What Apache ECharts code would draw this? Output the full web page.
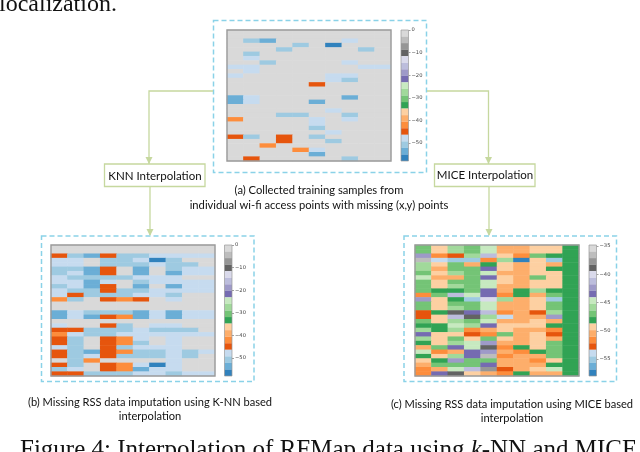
<!DOCTYPE html>
<html><head><meta charset="utf-8">
<style>html,body{margin:0;padding:0;background:#fff}#c{width:640px;height:452px;filter:blur(0.55px)}</style>
<script src="https://cdn.jsdelivr.net/npm/echarts@6/dist/echarts.min.js"></script>
</head><body><div id="c"></div>
<script>
const palette=['#d9d9d9','#bdbdbd','#969696','#636363','#dadaeb','#bcbddc','#9e9ac8','#756bb1','#c7e9c0','#a1d99b','#74c476','#31a354','#fdd0a2','#fdae6b','#fd8d3c','#e6550d','#c6dbef','#9ecae1','#6baed6','#3182bd'];
const columns=[0,1,2,3,4,5,6,7,8,9];
const rows=[...Array(30).keys()];
const collected=[
[0,0,0,0,0,0,0,0,0,0],
[0,0,0,0,0,0,0,0,0,0],
[0,-51,-54,0,0,0,0,-48,0,0],
[0,0,0,0,-51,0,-57,0,0,0],
[0,0,0,-51,0,0,0,0,-51,0],
[0,-51,0,0,0,0,0,0,0,0],
[0,-48,0,0,0,0,0,0,0,0],
[0,0,-51,0,0,0,0,-48,0,0],
[-48,-48,0,0,0,0,0,0,-48,-48],
[0,-48,0,0,0,0,0,0,0,0],
[-48,0,0,0,0,0,-48,-48,0,0],
[0,0,0,0,0,0,-48,-51,0,0],
[0,0,0,0,0,-45,0,0,0,0],
[0,0,0,0,0,0,0,0,0,0],
[0,0,0,0,0,0,0,0,0,0],
[-54,-48,0,0,0,0,0,-54,0,0],
[-54,-48,0,0,0,-54,0,0,0,0],
[0,0,0,0,0,0,0,0,0,0],
[0,0,0,0,0,0,-48,0,0,0],
[0,0,0,-51,-51,0,0,-51,0,0],
[-42,0,0,0,0,-48,0,-48,0,0],
[0,0,0,0,0,-48,0,0,0,0],
[0,0,0,0,0,-51,0,0,0,0],
[0,0,0,0,0,0,-48,0,0,0],
[-45,-51,0,-45,0,-51,0,0,0,0],
[0,0,0,-45,0,0,-51,0,0,0],
[0,0,-42,0,0,0,0,0,0,0],
[0,0,0,0,-42,-48,0,0,0,0],
[0,0,0,0,0,-54,0,0,0,0],
[0,-45,0,0,0,0,0,-51,0,0]];
const knn=[
[0,0,0,0,0,0,0,0,0,0],
[0,0,0,0,0,0,0,0,0,0],
[-45,-51,-54,-45,-51,-51,-48,-48,-48,-48],
[-48,-48,0,-51,-51,-48,-57,-51,0,0],
[-48,-48,0,-51,-51,-51,-48,-51,-51,0],
[-51,-51,-54,-45,0,-54,0,-51,-48,-48],
[-51,-48,-54,-45,0,-54,0,-54,-48,-48],
[-48,-51,-51,-51,-51,-48,-48,-48,0,0],
[-48,-48,-54,-48,0,-51,-48,-48,-48,-48],
[-51,-48,-54,-45,0,-54,0,-54,-48,-48],
[-48,-51,-51,-45,-51,-51,-48,-48,-48,-48],
[-48,-45,-51,-51,-51,-48,-48,-51,0,0],
[-42,-51,0,-45,-42,-45,0,-48,0,0],
[0,0,0,0,0,0,0,0,0,0],
[0,0,0,0,0,0,0,0,0,0],
[-54,-48,-51,-51,-51,-54,-48,-54,-48,-48],
[-54,-48,-54,-45,-42,-54,-48,-54,-48,-48],
[0,0,0,0,0,0,0,0,0,0],
[-48,0,0,-45,-51,0,-48,-48,0,0],
[-45,-45,-51,-51,-51,-48,-51,-51,-51,0],
[-42,-48,-51,-51,-48,-48,-48,-48,-48,-48],
[-45,-51,0,-45,-42,-48,0,-48,0,0],
[-45,-51,0,-45,-42,-51,0,-48,0,0],
[-48,-51,0,-45,-51,-48,-48,-48,0,0],
[-45,-51,-54,-45,-42,-51,-51,-48,-51,-48],
[-45,-51,-48,-45,-51,-51,-51,-48,-51,0],
[0,-51,-42,0,0,0,0,-48,0,0],
[-45,-51,0,-45,-42,-48,-57,-48,0,0],
[-51,-48,0,-45,-42,-54,-48,-48,0,0],
[-45,-45,-51,-51,-51,-48,-48,-51,-48,-48]];
const mice=[
[-47,-49.2,-45.7,-47,-44.6,-50.4,-50.4,-49.2,-49.2,-48],
[-47,-49.2,-45.7,-47,-44.6,-50.4,-50.4,-49.2,-49.2,-48],
[-42.2,-51.6,-52.7,-45.7,-41.1,-49.2,-51.6,-47,-48,-48],
[-36.4,-53.9,-55,-55,-51.6,-45.7,-57.4,-49.2,-55,-48],
[-45.7,-49.2,-47,-50.4,-48,-49.2,-50.4,-49.2,-50.4,-48],
[-45.7,-50.4,-47,-47,-43.4,-49.2,-50.4,-49.2,-48,-48],
[-47,-49.2,-45.7,-47,-44.6,-50.4,-50.4,-49.2,-49.2,-48],
[-44.6,-50.4,-50.4,-47,-43.4,-49.2,-50.4,-47,-49.2,-48],
[-47,-49.2,-47,-47,-44.6,-49.2,-50.4,-49.2,-49.2,-48],
[-47,-49.2,-45.7,-47,-44.6,-50.4,-50.4,-49.2,-49.2,-48],
[-47,-48,-48,-47,-43.4,-50.4,-48,-45.7,-48,-48],
[-51.6,-47,-41.1,-44.6,-43.4,-51.6,-48,-50.4,-47,-48],
[-42.2,-49.2,-48,-55,-39.9,-45.7,-50.4,-49.2,-55,-48],
[-47,-49.2,-47,-47,-44.6,-50.4,-50.4,-49.2,-47,-48],
[-47,-49.2,-45.7,-47,-44.6,-50.4,-50.4,-49.2,-47,-48],
[-52.7,-48,-38.8,-43.4,-41.1,-51.6,-50.4,-52.7,-45.7,-48],
[-52.7,-49.2,-41.1,-38.8,-45.7,-53.9,-50.4,-50.4,-42.2,-48],
[-47,-49.2,-45.7,-47,-44.6,-50.4,-50.4,-49.2,-50.4,-48],
[-48,-48,-44.6,-45.7,-43.4,-49.2,-49.2,-49.2,-48,-48],
[-45.7,-48,-45.7,-51.6,-50.4,-49.2,-50.4,-50.4,-51.6,-48],
[-43.4,-49.2,-49.2,-52.7,-51.6,-47,-50.4,-49.2,-52.7,-48],
[-45.7,-49.2,-47,-49.2,-47,-49.2,-50.4,-49.2,-50.4,-48],
[-48,-49.2,-45.7,-44.6,-42.2,-50.4,-50.4,-49.2,-47,-48],
[-50.4,-47,-43.4,-44.6,-38.8,-51.6,-48,-49.2,-47,-48],
[-44.6,-51.6,-50.4,-43.4,-42.2,-50.4,-51.6,-48,-47,-48],
[-48,-49.2,-45.7,-43.4,-36.4,-51.6,-50.4,-50.4,-47,-48],
[-49.2,-48,-42.2,-47,-47,-50.4,-50.4,-51.6,-49.2,-48],
[-50.4,-47,-47,-47,-43.4,-50.4,-50.4,-50.4,-48,-48],
[-51.6,-50.4,-44.6,-41.1,-37.6,-52.7,-50.4,-49.2,-44.6,-48],
[-51.6,-43.4,-38.8,-49.2,-50.4,-51.6,-48,-50.4,-50.4,-48]];
const ticksWide=[0,-10,-20,-30,-40,-50];
const ticksNarrow=[-35,-40,-45,-50,-55];
const domainWide=[-58,0];
const domainNarrow=[-58,-34.8];

const panels=[
 {values:collected,domain:domainWide,ticks:ticksWide,left:227,top:30,width:164,height:131,barLeft:401,barWidth:7.5},
 {values:knn,domain:domainWide,ticks:ticksWide,left:51,top:245,width:164,height:131,barLeft:224.5,barWidth:7.5},
 {values:mice,domain:domainNarrow,ticks:ticksNarrow,left:415,top:245,width:164,height:131,barLeft:589,barWidth:7.5}];

const grid=[],xAxis=[],yAxis=[],series=[],visualMap=[],graphic=[];
const frame=(x,y,w,h,width)=>({type:'rect',silent:true,z:50,shape:{x,y,width:w,height:h},style:{fill:null,stroke:'#9a9a9a',lineWidth:width}});
panels.forEach((p,i)=>{
  const [lo,hi]=p.domain, step=(hi-lo)/palette.length;
  const bins=palette.map((c,k)=>({upper:hi-k*step,lower:hi-(k+1)*step,color:c}));
  const g=i*2;
  grid.push({left:p.left,top:p.top,width:p.width,height:p.height});
  xAxis.push({type:'category',gridIndex:g,data:columns,show:false});
  yAxis.push({type:'category',gridIndex:g,data:rows,inverse:true,show:false});
  const cells=[];
  p.values.forEach((r,y)=>r.forEach((v,x)=>cells.push([x,y,v])));
  series.push({type:'heatmap',xAxisIndex:g,yAxisIndex:g,data:cells,silent:true,progressive:0,emphasis:{disabled:true}});
  visualMap.push({type:'piecewise',show:false,seriesIndex:series.length-1,dimension:2,
    pieces:bins.map(b=>({gt:b.lower-(b.lower===lo?1:0),lte:b.upper,color:b.color}))});
  grid.push({left:p.barLeft,top:p.top,width:p.barWidth,height:p.height});
  xAxis.push({type:'category',gridIndex:g+1,data:[''],show:false});
  yAxis.push({type:'value',gridIndex:g+1,min:lo,max:hi,position:'right',splitLine:{show:false},
    axisLine:{show:false},
    axisTick:{show:true,length:2,lineStyle:{color:'#777',width:0.7},customValues:p.ticks},
    axisLabel:{show:true,margin:3,fontSize:5.2,color:'#444',fontFamily:'DejaVu Sans',customValues:p.ticks,
      formatter:v=>String(v).replace('-','\u2212')}});
  series.push({type:'custom',xAxisIndex:g+1,yAxisIndex:g+1,silent:true,
    data:bins.map(b=>[0,b.lower,b.upper,b.color]),
    encode:{x:0,y:[1,2]},
    renderItem:(params,api)=>{
      const a=api.coord([0,api.value(1)]),b=api.coord([0,api.value(2)]),cs=params.coordSys;
      return {type:'rect',shape:{x:cs.x,y:b[1],width:cs.width,height:a[1]-b[1]},style:{fill:bins[params.dataIndex].color}};
    }});
  graphic.push(frame(p.left,p.top,p.width,p.height,1.4),frame(p.barLeft,p.top,p.barWidth,p.height,0.7));
});

const boxColor='#8ad2e8', arrow='#c6d89f';
const dashed=(x,y,w,h)=>({type:'rect',silent:true,shape:{x,y,width:w,height:h},style:{fill:null,stroke:boxColor,lineWidth:1.5,lineDash:[5,3]}});
const line=(pts)=>({type:'polyline',silent:true,shape:{points:pts},style:{fill:null,stroke:arrow,lineWidth:1.3}});
const head=(x,y)=>({type:'polygon',silent:true,shape:{points:[[x-3.5,y-7],[x+3.5,y-7],[x,y]]},style:{fill:arrow}});
const box=(x,y,w,h)=>({type:'rect',silent:true,shape:{x,y,width:w,height:h},style:{fill:'#fff',stroke:arrow,lineWidth:1.3}});
const label=(t,x,y,fs,col,align,fam)=>({type:'text',silent:true,x,y,style:{text:t,font:fs+'px '+(fam||'Lato'),fill:col||'#111',textAlign:align||'center',textVerticalAlign:'middle'}});
const serif='Liberation Serif';
graphic.push(
 dashed(213.5,20.5,213,152),dashed(41.5,236,212.5,145.5),dashed(404,236,212.5,145.5),
 line([[213,91],[149,91],[149,164]]),head(149,164),
 line([[427,91],[488.5,91],[488.5,164]]),head(488.5,164),
 line([[150,187],[150,235]]),head(150,236),
 line([[489,187],[489,235]]),head(489,236),
 box(104.5,164,100.5,22.5),box(434.5,164,100.5,22.5),
 label('KNN Interpolation',155,176.5,11.5),label('MICE Interpolation',485,175,11.5),
 label('(a) Collected training samples from',319,190,11.2),
 label('individual wi-fi access points with missing (x,y) points',319,205,11.2),
 label('(b) Missing RSS data imputation using K-NN based',150,402,11.1),
 label('interpolation',150,416,11.1),
 label('(c) Missing RSS data imputation using MICE based',512,404,11.1),
 label('interpolation',512,418,11.1),
 label('localization.',-1,5,24,'#111','left',serif),
 {type:'text',silent:true,x:20,y:450,style:{text:'{a|Figure 4: Interpolation of RFMap data using }{k|k}{a|-NN and MICE}',
   textAlign:'left',textVerticalAlign:'middle',fill:'#111',
   rich:{a:{font:'25px '+serif,fill:'#111'},k:{font:'italic 25px '+serif,fill:'#111'}}}}
);

const chart=echarts.init(document.getElementById('c'),null,{renderer:'canvas'});
chart.setOption({animation:false,backgroundColor:'#fff',grid,xAxis,yAxis,visualMap,series,graphic});
</script></body></html>
